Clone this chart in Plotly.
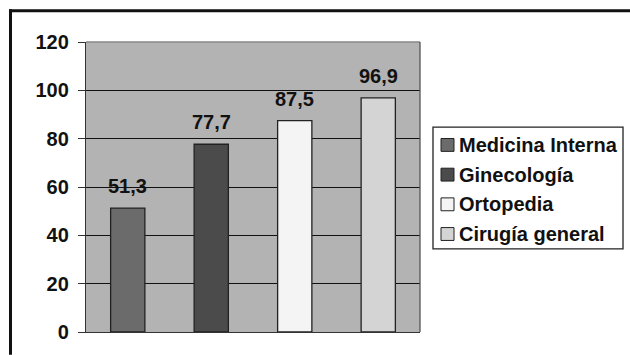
import plotly.graph_objects as go

categories = ["Medicina Interna", "Ginecología", "Ortopedia", "Cirugía general"]
values = [51.3, 77.7, 87.5, 96.9]
bar_colors = ["#6b6b6b", "#4b4b4b", "#f4f4f4", "#d4d4d4"]
y_ticks = [0, 20, 40, 60, 80, 100, 120]

W, H = 630, 355
L, R, T, B = 86, 420, 42, 335  # plot area in pixels

def px(x):
    return (x - L) / (R - L)

def py(y):
    return (B - y) / (B - T)

FONT = "Liberation Sans, Arial, sans-serif"
FNT = dict(family=FONT, size=20, color="#111111", weight="bold")

fig = go.Figure()
fig.add_trace(go.Bar(
    x=categories, y=values, width=0.41,
    marker=dict(color=bar_colors, line=dict(color="#222222", width=1.3)),
    showlegend=False, hoverinfo="skip",
))

annotations = []
for c, v in zip(categories, values):
    annotations.append(dict(
        x=c, y=v, xref="x", yref="y", text=f"{v:.1f}".replace(".", ","),
        showarrow=False, yanchor="middle", yshift=22, font=FNT,
    ))

shapes = []
# outer frame (top and left edges)
shapes.append(dict(type="line", xref="paper", yref="paper",
                   x0=px(9), x1=px(632), y0=py(10.5), y1=py(10.5),
                   line=dict(color="#111111", width=3)))
shapes.append(dict(type="line", xref="paper", yref="paper",
                   x0=px(10.5), x1=px(10.5), y0=py(9), y1=py(358),
                   line=dict(color="#111111", width=3)))
# legend box
shapes.append(dict(type="rect", xref="paper", yref="paper",
                   x0=px(433), x1=px(623), y0=py(128), y1=py(251),
                   line=dict(color="#222222", width=1.3), fillcolor="white"))
row_y = [146, 176, 206, 236]
for c, col, ry in zip(categories, bar_colors, row_y):
    shapes.append(dict(type="rect", xref="paper", yref="paper",
                       x0=px(441), x1=px(454), y0=py(ry - 6.5), y1=py(ry + 6.5),
                       line=dict(color="#222222", width=1), fillcolor=col))
    annotations.append(dict(
        x=px(457), y=py(ry), xref="paper", yref="paper", text=c,
        showarrow=False, xanchor="left", yanchor="middle", font=FNT,
    ))

fig.update_layout(
    width=W, height=H, autosize=False,
    margin=dict(l=L, r=W - R, t=T, b=H - B, pad=0),
    paper_bgcolor="white", plot_bgcolor="#b3b3b3",
    font=FNT,
    shapes=shapes, annotations=annotations,
    xaxis=dict(showticklabels=False, ticks="", showgrid=False,
               showline=True, linecolor="#333333", linewidth=1.3,
               mirror=False, zeroline=False),
    yaxis=dict(range=[0, 120], tickvals=y_ticks, ticks="outside", ticklen=7,
               tickcolor="#333333", tickwidth=1.3,
               showgrid=True, gridcolor="#111111", gridwidth=1.2,
               showline=True, linecolor="#333333", linewidth=1.3,
               zeroline=False, ticklabelstandoff=5, tickfont=FNT),
)
# plot-area border on top/right
fig.add_shape(type="line", xref="paper", yref="paper", x0=0, x1=1, y0=1, y1=1,
              line=dict(color="#888888", width=1.3))
fig.add_shape(type="line", xref="paper", yref="paper", x0=1, x1=1, y0=0, y1=1,
              line=dict(color="#555555", width=1.3))

fig.write_html("out.html")
